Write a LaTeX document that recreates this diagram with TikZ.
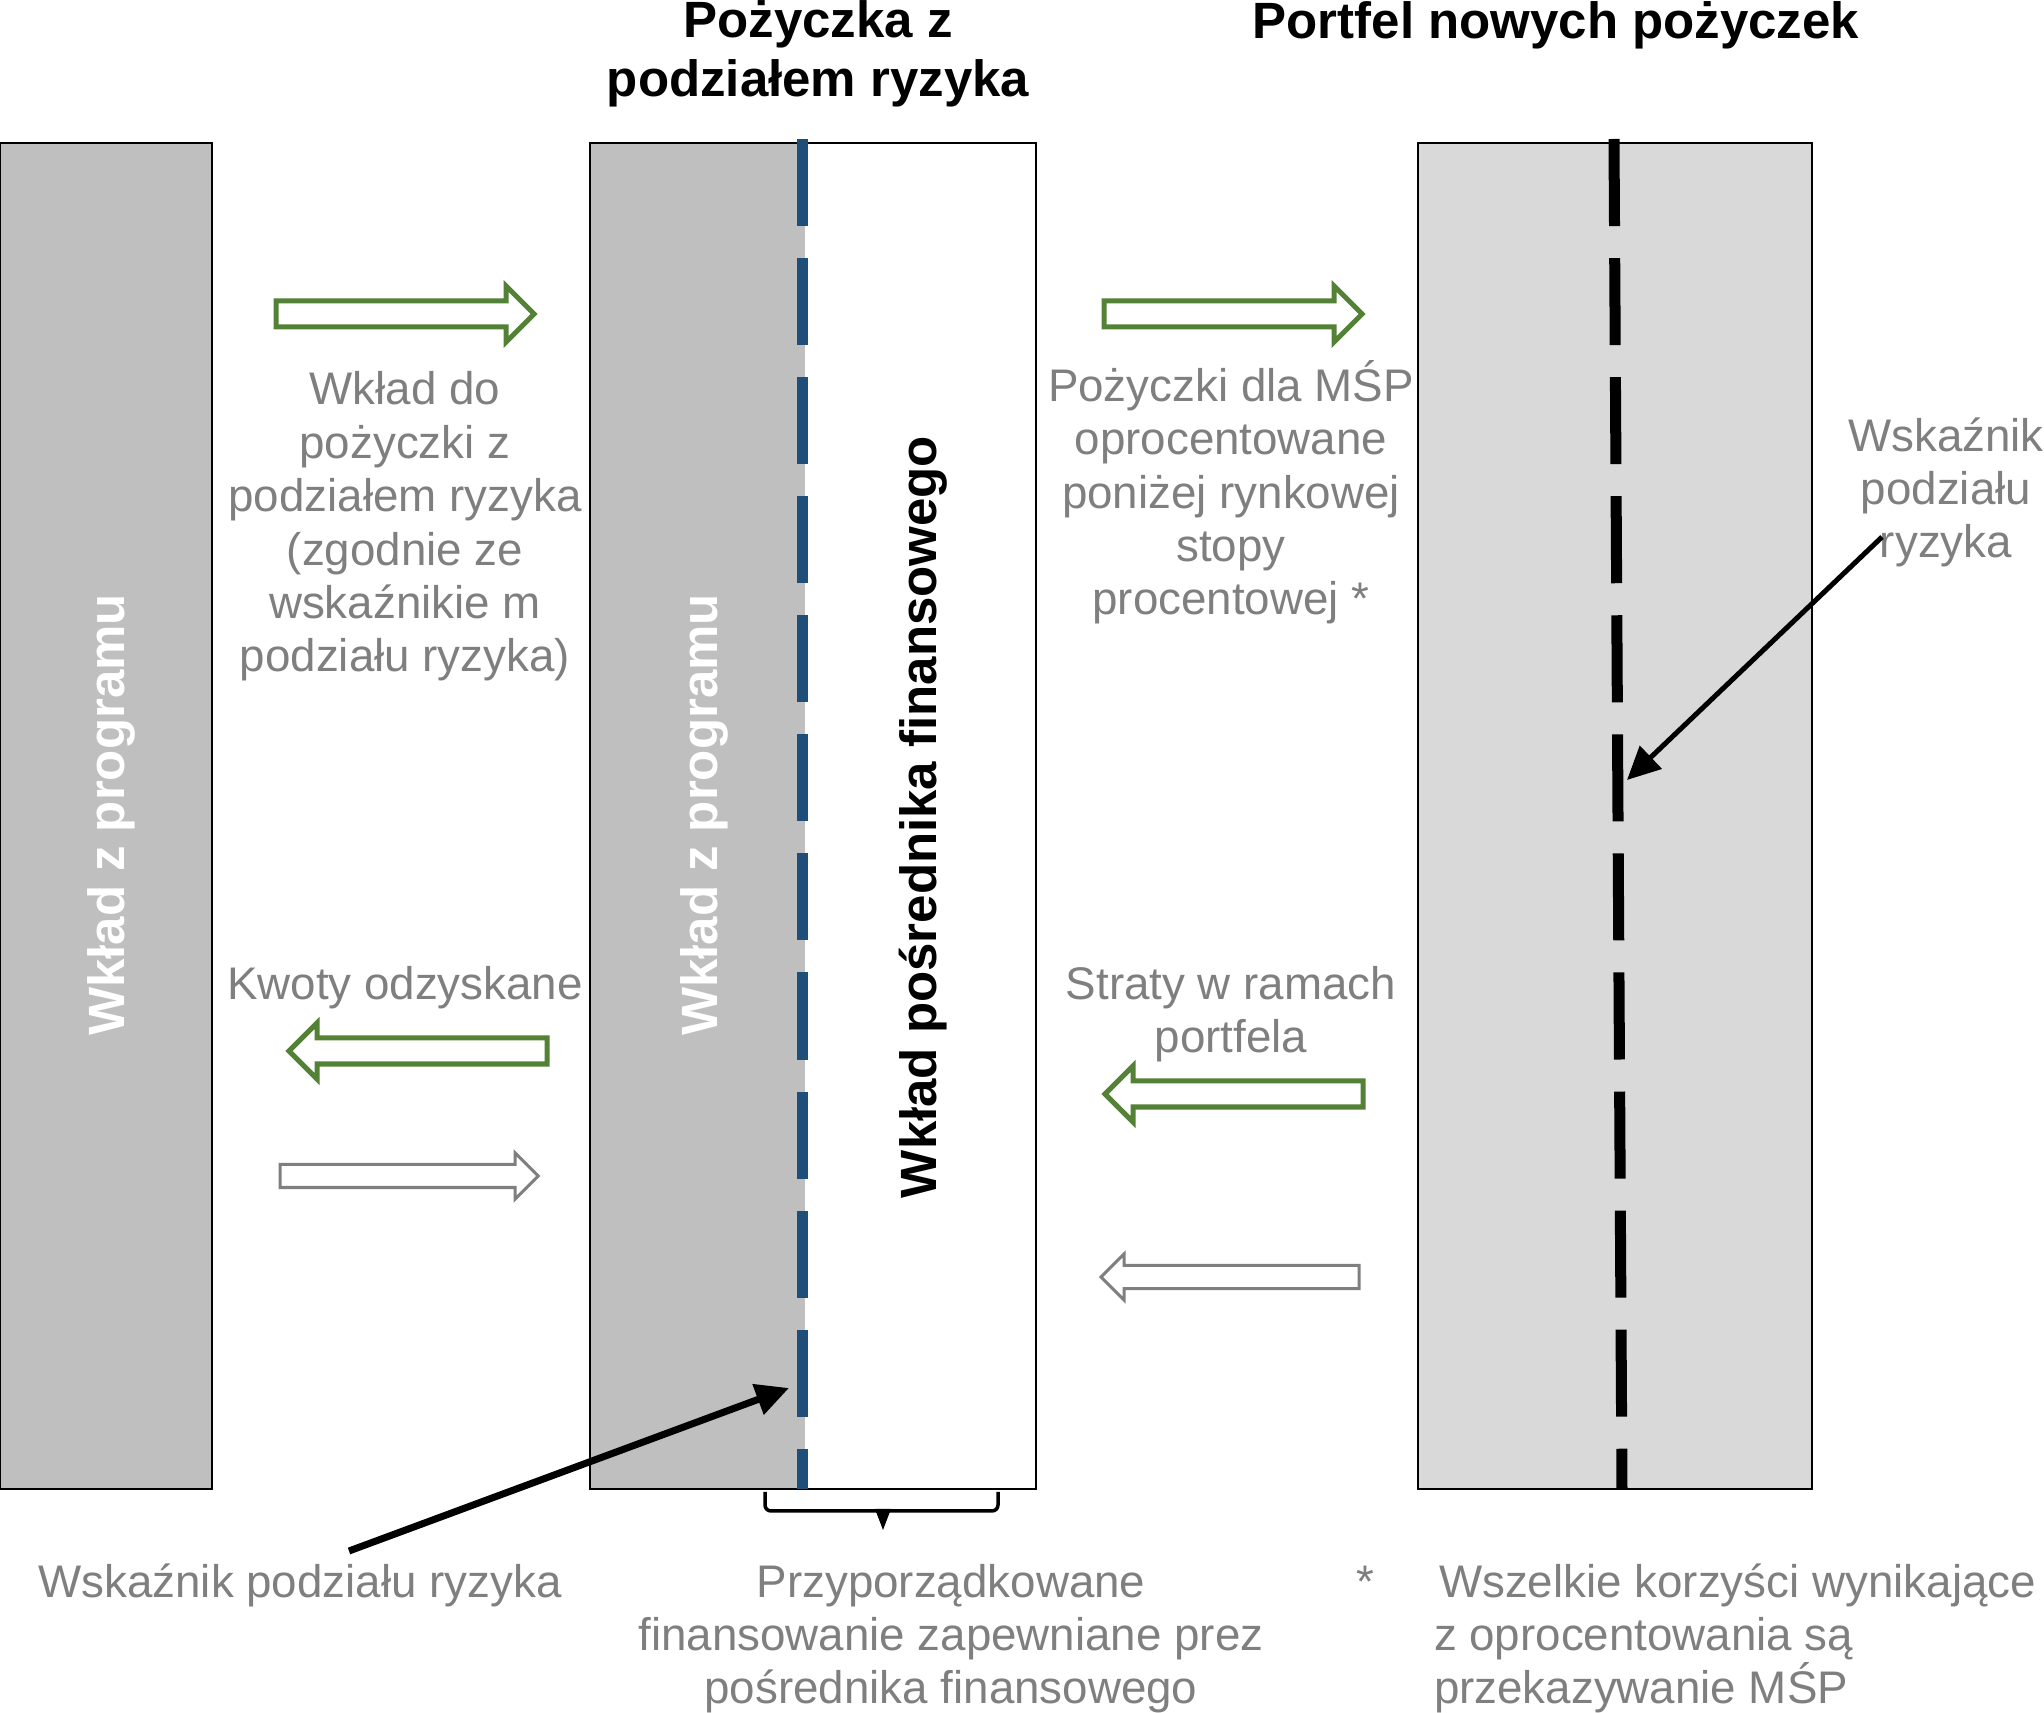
\documentclass[tikz,border=0pt]{standalone}
\usepackage{fontspec}
\setmainfont{Liberation Sans}
\usetikzlibrary{arrows.meta,shapes.arrows,positioning}
\definecolor{flowgreen}{HTML}{538135}
\definecolor{labelgray}{HTML}{7F7F7F}
\definecolor{barfill}{HTML}{BFBFBF}
\definecolor{portfill}{HTML}{D9D9D9}
\definecolor{splitblue}{HTML}{1F4E79}

\begin{document}
\begin{tikzpicture}[x=0.01cm, y=-0.01cm,
  every node/.style={inner sep=0pt, outer sep=0pt},
  txt/.style={text=labelgray, align=center, font=\fontsize{13}{15.2}\selectfont, anchor=base},
  heading/.style={align=center, font=\bfseries\fontsize{14.5}{17}\selectfont, anchor=base},
  bartext/.style={rotate=90, anchor=base, font=\bfseries\fontsize{14.5}{16}\selectfont},
  bar/.style={draw, line width=0.02cm, minimum height=13.46cm},
  flow/.style={single arrow, draw, fill=white, minimum height=2.58cm},
  gflow/.style={flow, draw=flowgreen, line width=0.05cm, inner ysep=0.105cm, single arrow head extend=0.15cm},
  pflow/.style={flow, draw=labelgray, line width=0.03cm, inner ysep=0.1cm, single arrow head extend=0.115cm},
  divider/.style={line width=0.11cm, dash pattern=on 0.87cm off 0.32cm},
  pointer/.style={-{Triangle[length=0.33cm,width=0.31cm]}}
]
\useasboundingbox (0,0) rectangle (2044,1713);

\node[bar, fill=barfill, minimum width=2.12cm] (progL) at (106,816) {};
\fill[barfill] (590,143) rectangle (805,1489);
\node[bar, minimum width=4.46cm] (rsl) at (813,816) {};
\node[bar, fill=portfill, minimum width=3.94cm] (portf) at (1615,816) {};

\coordinate (divAt) at (802,139);
\coordinate (divAb) at (802,1489);
\draw[divider, splitblue] (divAt) -- (divAb);
\coordinate (divBt) at (1614,139);
\coordinate (divBb) at (1622,1489);
\draw[divider] (divBt) -- (divBb);

\node[bartext, white] (progLtxt) at (124,815) {Wkład z programu};
\node[bartext, white] (progMtxt) at (717,815) {Wkład z programu};
\node[bartext] (fintxt) at (936,817) {Wkład pośrednika finansowego};

\node[heading] (hdrRsl) at (818,97) {Pożyczka z\\podziałem ryzyka};
\node[heading] (hdrPort) at (1556,39) {Portfel nowych pożyczek};

\node[gflow, anchor=tail] (flowIn) at (276,314) {};
\node[gflow, anchor=tail] (flowOut) at (1104,314) {};
\node[gflow, rotate=180, anchor=tip] (flowBack) at (289,1051) {};
\node[pflow, anchor=tail] (flowFwd) at (280,1176) {};
\node[gflow, rotate=180, anchor=tip] (flowLoss) at (1105,1094) {};
\node[pflow, rotate=180, anchor=tip] (flowRet) at (1101,1277) {};

\node[txt] (lblIn) at (405,672) {Wkład do\\pożyczki z\\podziałem ryzyka\\(zgodnie ze\\wskaźnikie m\\podziału ryzyka)};
\node[txt] (lblOut) at (1231,615) {Pożyczki dla MŚP\\oprocentowane\\poniżej rynkowej\\stopy\\procentowej *};
\node[txt] (lblRatioR) at (1946,558) {Wskaźnik\\podziału\\ryzyka};
\node[txt] (lblBack) at (405,1000) {Kwoty odzyskane};
\node[txt] (lblLoss) at (1231,1053) {Straty w ramach\\portfela};
\node[txt] (lblRatioL) at (300,1598) {Wskaźnik podziału ryzyka};
\node[txt] (lblFin) at (951,1704) {Przyporządkowane\\finansowanie zapewniane prez\\pośrednika finansowego};
\node[txt] (star) at (1365,1598) {*};
\node[txt, align=left, anchor=base west] (lblNote) at (1434,1704) {\hspace*{0.05cm}Wszelkie korzyści wynikające\\z oprocentowania są\\przekazywanie MŚP};

\draw[line width=0.035cm, rounded corners=0.06cm] (765,1492) -- (765,1511) -- (998,1511) -- (998,1492);
\fill (875,1509) -- (891,1509) -- (883,1530) -- cycle;

\coordinate (ptrLtail) at (349,1551);
\coordinate (ptrLhead) at (789,1388);
\draw[pointer, line width=0.07cm] (ptrLtail) -- (ptrLhead);
\coordinate (ptrRtail) at (1882,537);
\coordinate (ptrRhead) at (1627,780);
\draw[pointer, line width=0.05cm] (ptrRtail) -- (ptrRhead);
\end{tikzpicture}
\end{document}
